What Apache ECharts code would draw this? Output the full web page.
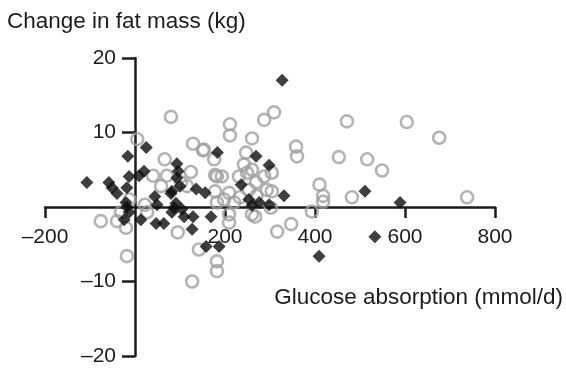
<!DOCTYPE html>
<html>
<head>
<meta charset="utf-8">
<script src="https://cdn.jsdelivr.net/npm/echarts@6/dist/echarts.min.js"></script>
<style>
  html, body { margin: 0; background: #fff; }
  #chart { width: 566px; height: 370px; }
</style>
</head>
<body>
<div id="chart"></div>
<script>
// tick labels shown on each axis (0 is left unlabelled)
const xTicks = [-200, 200, 400, 600, 800];
const yTicks = [-20, -10, 10, 20];

// [glucose absorption (mmol/d), change in fat mass (kg)]
const openCircles = [
  [80, 12.1], [5, 9.1], [129, 8.5], [151, 7.6], [66, 6.4], [40, 4.2], [71, 4.2],
  [124, 4.7], [178, 4.3], [102, 3.3], [58, 2.8], [116, 2.8], [178, 2.1], [22, 0.3],
  [27, -0.7], [-76, -1.9], [-40, -1.9], [-20, -2.8], [-18, -6.6], [-31, -0.7],
  [-12, 1.0], [95, -3.4], [142, -5.7], [127, -10.0], [182, -7.3], [182, -8.6],
  [211, 11.1], [211, 9.6], [287, 11.7], [309, 12.7], [260, 9.2], [358, 8.1],
  [360, 6.8], [453, 6.7], [516, 6.4], [549, 4.9], [471, 11.5], [604, 11.4],
  [676, 9.3], [738, 1.3], [410, 3.0], [418, 1.5], [418, 0.7], [482, 1.3],
  [393, -0.6], [153, 7.7], [176, 6.4], [247, 7.3], [242, 5.7], [182, 4.1],
  [193, 4.1], [231, 4.1], [249, 4.6], [260, 5.0], [287, 4.1], [304, 4.6],
  [293, 2.3], [304, 2.1], [209, 1.9], [198, 1.0], [182, 0.6], [220, 0.6],
  [253, 2.3], [269, 3.3], [302, -0.1], [260, -1.0], [209, -1.0], [209, -2.1],
  [316, -3.3], [347, -2.3], [267, -1.3], [233, 1.3], [270, 1.5]
];

const filledDiamonds = [
  [-107, 3.3], [-58, 3.3], [-51, 2.6], [-40, 1.8], [-16, 6.8], [-13, 4.1],
  [-18, 2.6], [-20, 0.6], [-18, 0.0], [-13, -0.7], [-24, -1.7], [9, 4.2],
  [20, 4.8], [25, 8.0], [13, -1.7], [44, 1.4], [49, 0.3], [47, -2.2], [64, -2.2],
  [82, 2.1], [93, 5.8], [96, 4.8], [93, 3.9], [100, 2.8], [80, 1.8], [91, 0.5],
  [87, -0.1], [104, -0.3], [82, -0.7], [109, -1.3], [129, -1.3], [127, -3.0],
  [136, 2.4], [156, 1.9], [169, -1.3], [183, 7.3], [158, -5.3], [187, -5.3],
  [236, 3.0], [253, 1.0], [260, 0.2], [276, 0.6], [298, 0.3], [269, 6.8],
  [298, 5.6], [331, 1.5], [327, 17.0], [511, 2.1], [589, 0.6], [533, -4.0],
  [409, -6.6]
];

const FONT = '"Liberation Sans", Arial, sans-serif';
const INK = '#1c1c1c';
const dash = (v) => String(v).replace('-', '\u2013');

// plot box: x -200..800 over 45..495 px, y -20..20 over 356..58 px
const GRID = { left: 45, right: 71, top: 58, bottom: 14 };
// move each axis from the grid edge to the other axis' zero
const xOffset = -(370 - GRID.bottom - (GRID.top + (370 - GRID.top - GRID.bottom) / 2));
const yOffset = -((566 - GRID.left - GRID.right) * 200 / 1000);

const chart = echarts.init(document.getElementById('chart'));

chart.setOption({
  animation: false,
  grid: Object.assign({ outerBoundsMode: 'none', containLabel: false }, GRID),
  xAxis: {
    type: 'value',
    min: -200,
    max: 800,
    position: 'bottom',
    offset: xOffset,
    axisLine: { onZero: false, lineStyle: { color: INK, width: 2.5 } },
    axisTick: { customValues: xTicks, length: 11, lineStyle: { color: INK, width: 2.5 } },
    axisLabel: {
      customValues: xTicks,
      formatter: dash,
      margin: 20,
      color: INK,
      fontSize: 21,
      fontFamily: FONT
    },
    splitLine: { show: false }
  },
  yAxis: {
    type: 'value',
    min: -20,
    max: 20,
    position: 'left',
    offset: yOffset,
    axisLine: { show: true, onZero: false, lineStyle: { color: INK, width: 2.5 } },
    axisTick: { show: true, customValues: yTicks, length: 13, lineStyle: { color: INK, width: 2.5 } },
    axisLabel: {
      customValues: yTicks,
      formatter: dash,
      margin: 19,
      color: INK,
      fontSize: 21,
      fontFamily: FONT
    },
    splitLine: { show: false }
  },
  graphic: [
    {
      type: 'text',
      left: 7,
      top: 10,
      style: { text: 'Change in fat mass (kg)', font: '22.5px ' + FONT, fill: INK }
    },
    {
      type: 'text',
      right: 3,
      top: 286,
      style: { text: 'Glucose absorption (mmol/d)', font: '22.5px ' + FONT, fill: INK }
    }
  ],
  series: [
    {
      type: 'scatter',
      data: openCircles,
      symbol: 'circle',
      symbolSize: 12,
      itemStyle: { color: 'rgba(0,0,0,0)', borderColor: '#a0a0a0', borderWidth: 2.6 }
    },
    {
      type: 'scatter',
      data: filledDiamonds,
      symbol: 'diamond',
      symbolSize: 13,
      itemStyle: { color: '#0e0e0e' }
    }
  ]
});
</script>
</body>
</html>
